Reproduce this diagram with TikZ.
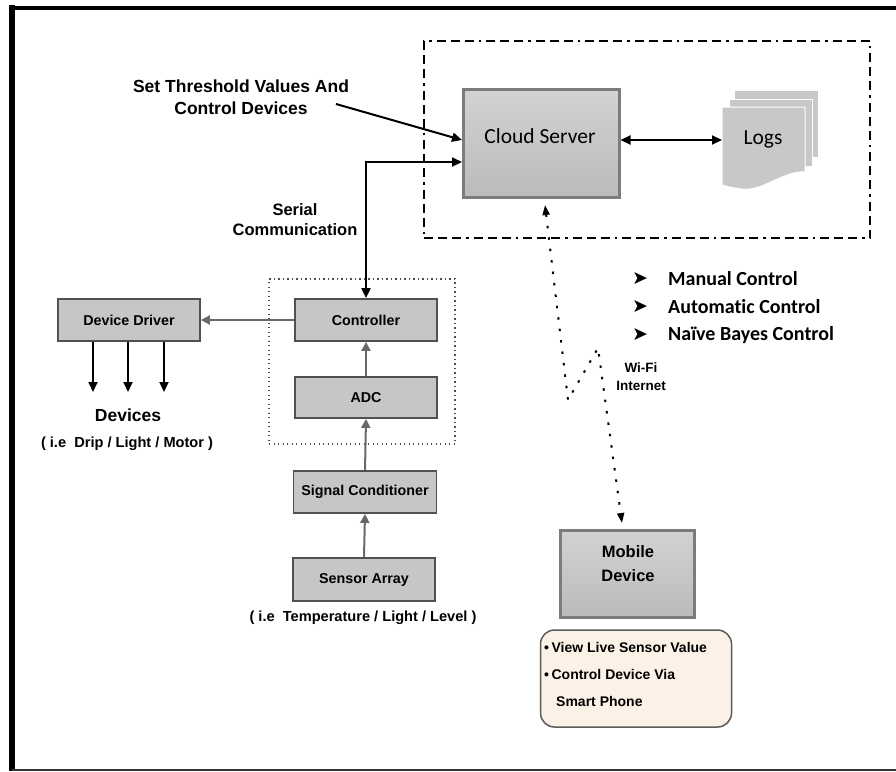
\documentclass[tikz,border=0pt]{standalone}
\usepackage{fontspec}
\setmainfont{Liberation Sans}
\newfontfamily\carl[Ligatures=NoCommon]{Carlito}
\newfontfamily\dvs{DejaVu Sans}
\usetikzlibrary{arrows.meta,shapes.geometric}
\definecolor{boxfill}{HTML}{C6C6C6}
\definecolor{boxline}{HTML}{505050}
\definecolor{cloudtop}{HTML}{D2D2D2}
\definecolor{cloudbot}{HTML}{BBBBBB}
\definecolor{cloudline}{HTML}{7C7C7C}
\definecolor{garrowc}{HTML}{686868}
\definecolor{logfill}{HTML}{C8C8C8}
\definecolor{infofill}{HTML}{FCF1E6}
\definecolor{infoline}{HTML}{5A5A5A}
\tikzset{
  smallbox/.style={draw=boxline, line width=1.8pt, fill=boxfill, inner sep=0pt,
    font=\bfseries\fontsize{14.3}{17}\selectfont},
  bigbox/.style={draw=cloudline, line width=3pt, top color=cloudtop, bottom color=cloudbot, inner sep=0pt},
  garrow/.style={draw=garrowc, line width=2pt, -{Triangle[length=9pt,width=9pt]}},
  barrow/.style={draw=black, line width=2pt, -{Triangle[length=10pt,width=9pt]}},
  dbarrow/.style={draw=black, line width=2pt, {Triangle[length=10pt,width=9pt]}-{Triangle[length=10pt,width=9pt]}},
  wifiline/.style={draw=black, line width=2pt, dash pattern=on 2.5pt off 9pt,
    {Triangle[length=10pt,width=7pt]}-{Triangle[length=10pt,width=7pt]}},
  dashdotbox/.style={draw=black, line width=2.5pt, inner sep=0pt,
    dash pattern=on 9pt off 5pt on 9pt off 5pt on 9pt off 5pt on 2.5pt off 5pt},
  dotbox/.style={draw=black!70, line width=1.3pt, inner sep=0pt, dash pattern=on 1.3pt off 3.2pt},
  lbl/.style={font=\bfseries\fontsize{14}{17}\selectfont, inner sep=0pt},
  ielbl/.style={font=\bfseries\fontsize{14.6}{17}\selectfont, inner sep=0pt},
  bul/.style={font=\carl\bfseries\fontsize{20}{24}\selectfont, anchor=west, inner sep=0pt},
  bularrow/.style={font=\dvs\fontsize{19}{22}\selectfont, inner sep=0pt},
}
\begin{document}
\begin{tikzpicture}[x=1pt,y=-1pt]
\useasboundingbox (0,0) rectangle (896,771);
% outer frame
\draw[line width=6pt] (12,5) -- (12,771);
\draw[line width=4pt] (9,8) -- (896,8);
\draw[line width=2pt, black!80] (12,769.5) -- (896,769.5);

% cloud group
\node[dashdotbox, minimum width=446pt, minimum height=197pt] (cloudgrp) at (647,139.5) {};
\node[bigbox, minimum width=156pt, minimum height=108pt] (cloud) at (541,143) {};
\node[font=\carl\fontsize{21.5}{24}\selectfont, inner sep=0pt] (cloudtxt) at (540,136) {Cloud Server};

% logs (stacked documents)
\fill[logfill] (735,91) rectangle (818,157);
\filldraw[draw=white, line width=1pt, fill=logfill] (729,99) rectangle (812,166);
\filldraw[draw=white, line width=1pt, fill=logfill] (722,107) -- (805,107) -- (805,172)
  .. controls (785,170) and (762,192) .. (742,189) .. controls (732,188) and (726,186) .. (722,185) -- cycle;
\node[font=\carl\fontsize{21.5}{24}\selectfont, inner sep=0pt] (logs) at (763,139) {Logs};
\coordinate (logsL) at (722,140);
\draw[dbarrow] (cloud.east |- logsL) -- (logsL);

% threshold
\node[font=\bfseries\fontsize{17.5}{22}\selectfont, align=center, inner sep=0pt] (thrtxt) at (241,97)
  {Set Threshold Values And\\Control Devices};
\coordinate (thr) at (336,104);
\coordinate (thrend) at (462,140);
\draw[barrow] (thr) -- (thrend);

% serial communication
\node[font=\bfseries\fontsize{16.5}{20}\selectfont, align=center, inner sep=0pt] (sertxt) at (295,220)
  {Serial\\Communication};
\coordinate (serend) at (462,162);

% processing chain
\node[dotbox, minimum width=186pt, minimum height=165pt] (grp) at (362,361.5) {};
\node[smallbox, minimum width=142pt, minimum height=42pt] (ctrl) at (366,320) {Controller};
\node[smallbox, minimum width=142pt, minimum height=41pt] (adc) at (366,397.5) {ADC};
\node[smallbox, minimum width=143pt, minimum height=42pt] (sc) at (365,492) {Signal Conditioner};
\node[smallbox, minimum width=142pt, minimum height=43pt] (sa) at (364,579.5) {Sensor Array};
\node[ielbl] (satxt) at (363,618) {( i.e\ \ Temperature / Light / Level )};

\draw[dbarrow] (ctrl.north) |- (serend);
\draw[garrow] (adc.north) -- (ctrl.south);
\draw[garrow] (sc.north) -- (adc.south);
\draw[garrow] (sa.north) -- (sc.south);

% device driver
\node[smallbox, minimum width=142pt, minimum height=42pt] (dd) at (129,320) {Device Driver};
\draw[garrow] (ctrl.west) -- (dd.east);
\coordinate (d1) at (93,392);
\coordinate (d2) at (128,392);
\coordinate (d3) at (164,392);
\draw[barrow] (dd.south -| d1) -- (d1);
\draw[barrow] (dd.south -| d2) -- (d2);
\draw[barrow] (dd.south -| d3) -- (d3);
\node[font=\bfseries\fontsize{17.5}{20}\selectfont, inner sep=0pt] (devices) at (128,415) {Devices};
\node[ielbl] (devtxt) at (127,444) {( i.e\ \ Drip / Light / Motor )};

% control modes
\node[bularrow] (b1) at (640,279) {➤};
\node[bularrow] (b2) at (640,307) {➤};
\node[bularrow] (b3) at (640,335) {➤};
\node[bul] (m1) at (668,279) {Manual Control};
\node[bul] (m2) at (668,307) {Automatic Control};
\node[bul] (m3) at (668,335) {Naïve Bayes Control};

% mobile
\node[bigbox, minimum width=134pt, minimum height=87pt] (mobile) at (627,573.5) {};
\node[font=\bfseries\fontsize{16.5}{24}\selectfont, align=center, inner sep=0pt] (mobtxt) at (628,564) {Mobile\\Device};

% wifi link
\coordinate (wtop) at (545,205);
\coordinate (w1) at (568,400);
\coordinate (w2) at (598,348);
\coordinate (wbot) at (622,523);
\draw[wifiline] (wtop) -- (w1) -- (w2) -- (wbot);
\node[font=\bfseries\fontsize{13.5}{18}\selectfont, align=center, inner sep=0pt] (wifitxt) at (641,377) {Wi-Fi\\Internet};

% info box
\node[draw=infoline, line width=1.5pt, fill=infofill, rounded corners=14pt, minimum width=191pt, minimum height=97pt] (info) at (636,678.5) {};
\node[lbl, anchor=west] (i1) at (544,647) {\textbullet\hspace{2.5pt}View Live Sensor Value};
\node[lbl, anchor=west] (i2) at (544,674) {\textbullet\hspace{2.5pt}Control Device Via};
\node[lbl, anchor=west] (i3) at (556,701) {Smart Phone};
\end{tikzpicture}
\end{document}
